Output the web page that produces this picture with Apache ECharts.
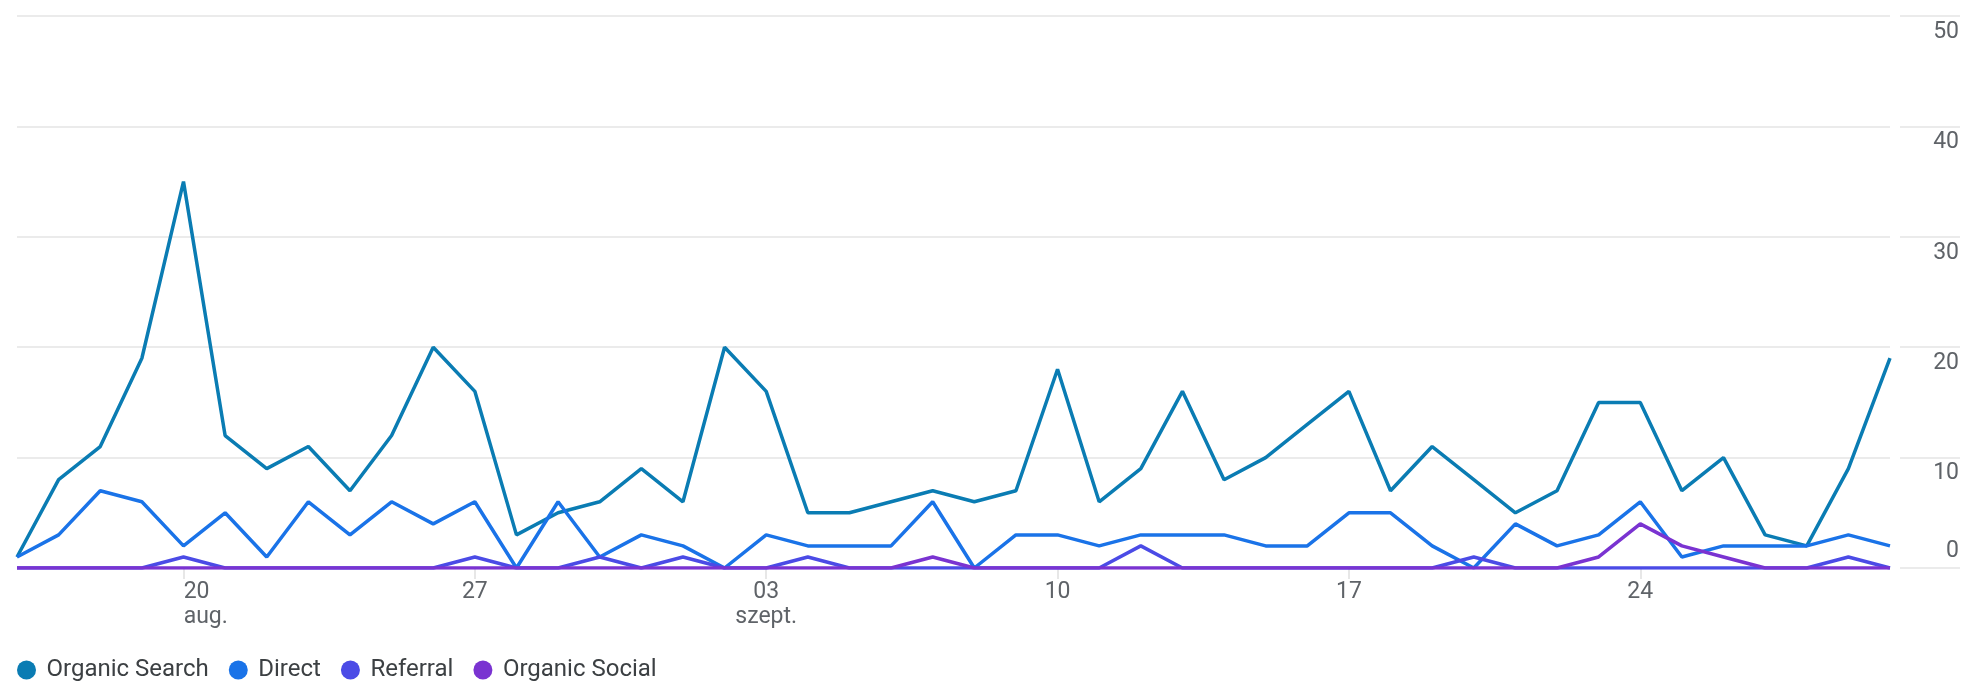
<!DOCTYPE html>
<html>
<head>
<meta charset="utf-8">
<script src="https://cdn.jsdelivr.net/npm/echarts@6/dist/echarts.min.js"></script>
<style>
html,body{margin:0;padding:0;background:#fff;}
#chart{width:1962px;height:681px;}
</style>
</head>
<body>
<div id="chart"></div>
<script>
const categories = ['08-16','08-17','08-18','08-19','08-20','08-21','08-22','08-23','08-24','08-25','08-26','08-27','08-28','08-29','08-30','08-31',
  '09-01','09-02','09-03','09-04','09-05','09-06','09-07','09-08','09-09','09-10','09-11','09-12','09-13','09-14','09-15','09-16','09-17','09-18','09-19','09-20',
  '09-21','09-22','09-23','09-24','09-25','09-26','09-27','09-28','09-29','09-30'];
const organicSearch = [1,8,11,19,35,12,9,11,7,12,20,16,3,5,6,9,6,20,16,5,5,6,7,6,7,18,6,9,16,8,10,13,16,7,11,8,5,7,15,15,7,10,3,2,9,19];
const direct        = [1,3,7,6,2,5,1,6,3,6,4,6,0,6,1,3,2,0,3,2,2,2,6,0,3,3,2,3,3,3,2,2,5,5,2,0,4,2,3,6,1,2,2,2,3,2];
const referral      = [0,0,0,0,1,0,0,0,0,0,0,1,0,0,1,0,1,0,0,1,0,0,0,0,0,0,0,2,0,0,0,0,0,0,0,1,0,0,0,0,0,0,0,0,1,0];
const organicSocial = [0,0,0,0,0,0,0,0,0,0,0,0,0,0,0,0,0,0,0,0,0,0,1,0,0,0,0,0,0,0,0,0,0,0,0,0,0,0,1,4,2,1,0,0,0,0];
const seriesNames = ['Organic Search','Direct','Referral','Organic Social'];
const seriesColors = ['#0a7cb3','#1a73e8','#4b4be6','#7a33d1'];
const tickDates = ['08-20','08-27','09-03','09-10','09-17','09-24'];
const tickTexts = ['20\naug.','27','03\nszept.','10','17','24'];
const yTicks = [0,10,20,30,40,50];

const chart = echarts.init(document.getElementById('chart'));
const font = 'Roboto';
const values = [organicSearch, direct, referral, organicSocial];
const isTick = (i) => tickDates.indexOf(categories[i]) >= 0;
const isFirstTick = (i) => categories[i] === tickDates[0];
const isOtherTick = (i) => isTick(i) && !isFirstTick(i);
const tickText = v => { const k = tickDates.indexOf(v); return k >= 0 ? tickTexts[k] : ''; };
const gridRect = {left: 17, right: 70, top: 16, bottom: 113};
const labelStyle = {fontFamily: font, fontSize: 23, lineHeight: 25, color: '#5f6368'};

chart.setOption({
  animation: false,
  textStyle: {fontFamily: font},
  grid: [
    Object.assign({}, gridRect),
    {left: 1900, right: 2, top: 16, bottom: 113},
    Object.assign({}, gridRect)
  ],
  legend: {
    left: 12, top: 653,
    icon: 'circle', itemWidth: 30, itemHeight: 19, itemGap: 20,
    textStyle: {fontFamily: font, fontSize: 24, color: '#3c4043'},
    data: seriesNames
  },
  xAxis: [
    {
      type: 'category', gridIndex: 0, data: categories, boundaryGap: false, position: 'bottom',
      axisLine: {show: false},
      axisTick: {show: true, interval: isTick, length: 11, lineStyle: {color: '#e0e0e0', width: 1.5}},
      axisLabel: Object.assign({interval: isOtherTick, align: 'center', margin: 12, formatter: tickText}, labelStyle),
      splitLine: {show: false}
    },
    {type: 'value', gridIndex: 1, min: 0, max: 1, show: false},
    {
      type: 'category', gridIndex: 2, data: categories, boundaryGap: false, position: 'bottom',
      axisLine: {show: false}, axisTick: {show: false}, splitLine: {show: false},
      axisLabel: Object.assign({interval: isFirstTick, align: 'left', margin: 12, formatter: tickText}, labelStyle)
    }
  ],
  yAxis: [
    {
      type: 'value', gridIndex: 0, position: 'right', min: yTicks[0], max: yTicks[yTicks.length-1], interval: 10,
      axisLine: {show: false}, axisTick: {show: false},
      splitLine: {lineStyle: {color: '#e5e5e5', width: 1.5}},
      axisLabel: {
        align: 'right', margin: 69, verticalAlign: 'middle',
        fontFamily: font, fontSize: 23, color: '#5f6368',
        formatter: v => v === 0 ? '{z|0}' : '{n|' + v + '}',
        rich: {
          z: {fontFamily: font, fontSize: 23, color: '#5f6368', padding: [0,0,34,0]},
          n: {fontFamily: font, fontSize: 23, color: '#5f6368', padding: [32,0,0,0]}
        }
      }
    },
    {
      type: 'value', gridIndex: 1, min: yTicks[0], max: yTicks[yTicks.length-1], interval: 10,
      axisLine: {show: false}, axisTick: {show: false}, axisLabel: {show: false},
      splitLine: {show: true, lineStyle: {color: '#e5e5e5', width: 1.5}}
    },
    {
      type: 'value', gridIndex: 2, min: yTicks[0], max: yTicks[yTicks.length-1], interval: 10, show: false
    }
  ],
  series: seriesNames.map((name, k) => ({
    name: name, type: 'line', xAxisIndex: 0, yAxisIndex: 0,
    data: values[k], showSymbol: false, symbol: 'circle',
    color: seriesColors[k],
    lineStyle: {width: 3.5, color: seriesColors[k]},
    itemStyle: {color: seriesColors[k]}
  }))
});
</script>
</body>
</html>
